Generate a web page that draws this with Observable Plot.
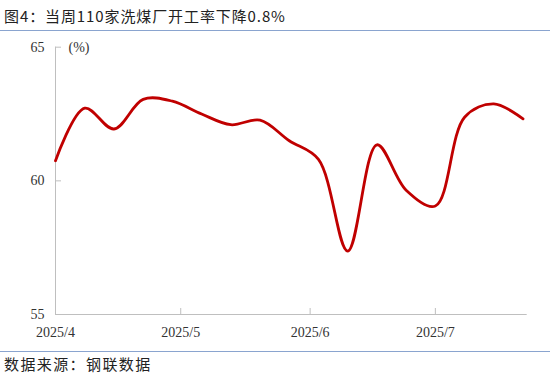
<!DOCTYPE html>
<html>
<head>
<meta charset="utf-8">
<script src="https://cdn.jsdelivr.net/npm/d3@7"></script>
<script src="https://cdn.jsdelivr.net/npm/@observablehq/plot@0.6"></script>
<style>
  html, body { margin: 0; padding: 0; background: #fff; }
  #wrap { position: relative; width: 550px; height: 381px; overflow: hidden; background: #fff; }
  #title { position: absolute; left: 4px; top: 6px; font: 15px "Noto Sans CJK SC", sans-serif; line-height: 20px; color: #222; letter-spacing: 0.9px; white-space: nowrap; }
  #tline { position: absolute; left: 0; top: 30px; width: 550px; height: 1px; background: #8aa4cf; }
  #chart { position: absolute; left: 0; top: 31px; }
  #fline { position: absolute; left: 0; top: 351px; width: 550px; height: 1px; background: #8aa4cf; }
  #foot { position: absolute; left: 4px; top: 354px; font: 15px "Noto Sans CJK SC", sans-serif; line-height: 19px; color: #222; letter-spacing: 1.4px; white-space: nowrap; }
</style>
</head>
<body>
<div id="wrap">
  <div id="title">图4：当周110家洗煤厂开工率下降0.8%</div>
  <div id="tline"></div>
  <div id="chart"></div>
  <div id="fline"></div>
  <div id="foot">数据来源：钢联数据</div>
</div>
<script>
// Weekly dates and operating rate (%) of 110 coal washing plants
const dates = ["2025-04-01","2025-04-08","2025-04-15","2025-04-22","2025-04-29","2025-05-06","2025-05-13","2025-05-20","2025-05-27","2025-06-03","2025-06-10","2025-06-17","2025-06-24","2025-07-01","2025-07-08","2025-07-15","2025-07-22"];
const rates = [60.75, 62.72, 61.94, 63.05, 62.98, 62.5, 62.1, 62.27, 61.5, 60.8, 57.37, 61.35, 59.65, 59.06, 62.38, 62.88, 62.32];
const xTickDates = ["2025-04-01","2025-05-01","2025-06-01","2025-07-01"];
const xTickLabels = ["2025/4","2025/5","2025/6","2025/7"];
const yTicks = [55, 60, 65];
const xDomain = ["2025-04-01","2025-07-23"];
const unitLabel = "(%)";

const data = dates.map((d, i) => ({date: new Date(d), rate: rates[i]}));
const xt = xTickDates.map(d => new Date(d));
const labelOf = new Map(xt.map((d, i) => [+d, xTickLabels[i]]));

const axisColor = "#bfbfbf";
const textColor = "#333";
const serif = "'Liberation Serif', 'DejaVu Serif', serif";

const chart = Plot.plot({
  width: 550,
  height: 319,
  marginTop: 15.7,
  marginBottom: 36,
  marginLeft: 55,
  marginRight: 23.3,
  style: {background: "transparent", fontFamily: serif},
  x: {type: "utc", domain: xDomain.map(d => new Date(d))},
  y: {domain: [55, 65]},
  marks: [
    Plot.ruleX([new Date(xDomain[0])], {stroke: axisColor, strokeWidth: 1}),
    Plot.ruleY([55], {stroke: axisColor, strokeWidth: 1}),
    Plot.axisY({ticks: yTicks, tickSize: 6, dx: 6, text: null, stroke: axisColor, label: null}),
    Plot.axisY({ticks: yTicks, tickSize: 0, tickPadding: 11, fontSize: 14, fill: textColor, label: null, tickFormat: d => String(d)}),
    Plot.axisX({ticks: xt.slice(1), tickSize: 6, anchor: "bottom", dy: -6, text: null, stroke: axisColor, label: null}),
    Plot.axisX({ticks: xt, tickSize: 0, tickPadding: 13, fontSize: 14, fill: textColor, label: null, tickFormat: d => labelOf.get(+d)}),
    Plot.text([unitLabel], {frameAnchor: "top-left", dx: 13, textAnchor: "start", lineAnchor: "middle", fontSize: 14, fill: textColor}),
    Plot.line(data, {x: "date", y: "rate", stroke: "#c00000", strokeWidth: 2.8, curve: "catmull-rom"})
  ]
});
document.getElementById("chart").appendChild(chart);
</script>
</body>
</html>
